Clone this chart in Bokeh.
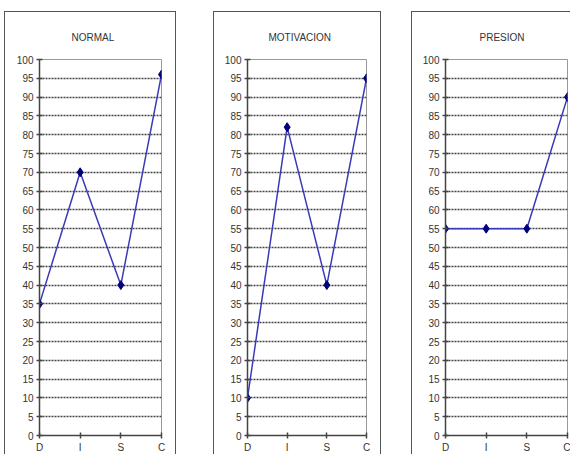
from bokeh.plotting import figure
from bokeh.layouts import row
from bokeh.models import Range1d, FixedTicker, Title
from bokeh.embed import file_html
from bokeh.resources import INLINE

categories = ["D", "I", "S", "C"]
normal = [35, 70, 40, 96]
motivacion = [10, 82, 40, 95]
presion = [55, 55, 55, 90]
titles = ["NORMAL", "MOTIVACION", "PRESION"]
y_ticks = list(range(0, 101, 5))

FONT = "Liberation Sans"

def make_panel(title, values, frame_w, left_margin, border_left, title_offset, right_border=True):
    p = figure(frame_width=frame_w, frame_height=375,
               x_range=Range1d(0, 3), y_range=Range1d(0, 100),
               output_backend="svg", toolbar_location=None,
               min_border_left=border_left, min_border_right=16 if right_border else 4,
               min_border_top=40, min_border_bottom=17,
               background_fill_color="white", border_fill_color="white",
               outline_line_color="#999999", outline_line_width=1,
               margin=(11, 0, 0, left_margin))
    border = "1px solid #555555"
    p.styles = {"border-top": border, "border-left": border,
                "border-right": border if right_border else "none"}
    t = Title(text=title, align="left", offset=title_offset,
              text_font=FONT, text_font_size="10px", text_font_style="normal",
              text_color="#333333", standoff=34)
    p.add_layout(t, "above")
    xs = list(range(len(categories)))
    p.xaxis.ticker = FixedTicker(ticks=xs)
    p.xaxis.major_label_overrides = {i: c for i, c in enumerate(categories)}
    p.yaxis.ticker = FixedTicker(ticks=y_ticks)
    for ax in (p.xaxis, p.yaxis):
        ax.axis_line_color = "#444444"
        ax.axis_line_width = 1.5
        ax.major_tick_line_color = "#444444"
        ax.major_tick_line_width = 1.5
        ax.major_tick_in = 3
        ax.major_tick_out = 3
        ax.minor_tick_line_color = None
        ax.major_label_text_font = FONT
        ax.major_label_text_font_size = "10px"
        ax.major_label_text_color = "#333333"
        ax.major_label_standoff = 3
    p.xgrid.grid_line_color = None
    p.ygrid.grid_line_color = "#444444"
    p.ygrid.grid_line_width = 1.5
    p.ygrid.grid_line_dash = "2 1"
    p.line(xs, values, line_color="#3a3ab8", line_width=1.5)
    p.scatter(xs, values, marker="diamond", size=9, fill_color="#00007a",
              line_color="#00007a")
    return p

p1 = make_panel(titles[0], normal, 120, 4, 34, 32)
p2 = make_panel(titles[1], motivacion, 117, 37, 33, 21)
p3 = make_panel(titles[2], presion, 121, 30, 33, 34, right_border=False)

layout = row(p1, p2, p3, spacing=0)
open("out.html", "w").write(file_html(layout, INLINE))
